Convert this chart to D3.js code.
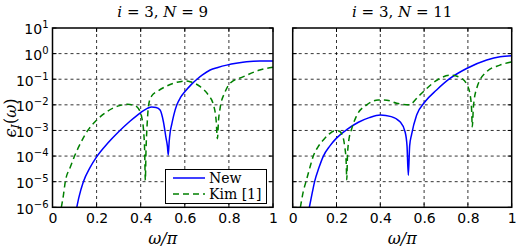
<!DOCTYPE html>
<html>
<head>
<meta charset="utf-8">
<script src="https://cdn.jsdelivr.net/npm/d3@7"></script>
<style>
  body { margin: 0; background: #fff; }
  .tick text { font-family: "DejaVu Sans", sans-serif; font-size: 14px; fill: #000; }
  .serif { font-family: "DejaVu Serif", "Liberation Serif", serif; }
</style>
</head>
<body>
<script>
// ---- data: omega/pi samples and log10 of epsilon_I ----
let titles = ["i = 3, N = 9", "i = 3, N = 11"]
let xTicks = [0, 0.2, 0.4, 0.6, 0.8, 1]
let yTickExps = [-6, -5, -4, -3, -2, -1, 0, 1]

// left panel (N = 9)
let newW9 = [0.11, 0.12, 0.14, 0.17, 0.2, 0.25, 0.3, 0.35, 0.4, 0.43, 0.45, 0.47, 0.488, 0.503, 0.515, 0.521, 0.525, 0.529, 0.534, 0.541, 0.55, 0.564, 0.58, 0.6, 0.63, 0.655, 0.68, 0.715, 0.75, 0.79, 0.84, 0.88, 0.94, 1]
let newE9 = [-6, -5.6, -5.0, -4.45, -4.03, -3.5, -3.05, -2.65, -2.3, -2.14, -2.08, -2.1, -2.2, -2.66, -3.3, -3.6, -3.96, -3.45, -3.05, -2.75, -2.4, -2.0, -1.72, -1.49, -1.2, -1.0, -0.83, -0.64, -0.54, -0.45, -0.37, -0.32, -0.29, -0.29]
let kimW9 = [0.04, 0.05, 0.058, 0.08, 0.1, 0.13, 0.16, 0.2, 0.25, 0.3, 0.34, 0.37, 0.39, 0.405, 0.413, 0.418, 0.421, 0.424, 0.429, 0.436, 0.45, 0.48, 0.51, 0.564, 0.6, 0.624, 0.67, 0.707, 0.73, 0.742, 0.748, 0.753, 0.76, 0.783, 0.805, 0.866, 0.94, 1]
let kimE9 = [-6, -5.5, -5.0, -4.45, -4.0, -3.45, -3.0, -2.6, -2.25, -2.04, -1.98, -2.02, -2.15, -2.5, -3.0, -3.8, -4.95, -3.8, -2.8, -2.0, -1.65, -1.45, -1.3, -1.12, -1.07, -1.1, -1.29, -1.62, -2.0, -2.6, -3.32, -2.6, -2.14, -1.49, -1.16, -0.9, -0.64, -0.53]

// right panel (N = 11)
let newW11 = [0.076, 0.09, 0.1, 0.12, 0.14, 0.17, 0.2, 0.25, 0.3, 0.35, 0.4, 0.45, 0.49, 0.513, 0.522, 0.528, 0.534, 0.543, 0.566, 0.604, 0.657, 0.718, 0.794, 0.886, 0.947, 1]
let newE11 = [-6, -5.4, -5.0, -4.45, -4.0, -3.6, -3.3, -2.95, -2.68, -2.5, -2.4, -2.46, -2.66, -3.05, -3.6, -4.75, -3.6, -3.15, -2.4, -1.88, -1.42, -0.97, -0.58, -0.25, -0.12, -0.08]
let kimW11 = [0.035, 0.048, 0.064, 0.08, 0.094, 0.115, 0.14, 0.165, 0.19, 0.21, 0.225, 0.237, 0.244, 0.247, 0.25, 0.256, 0.27, 0.29, 0.338, 0.39, 0.43, 0.475, 0.53, 0.58, 0.66, 0.72, 0.77, 0.795, 0.81, 0.817, 0.82, 0.825, 0.84, 0.885, 0.946, 1]
let kimE11 = [-6, -5.4, -4.9, -4.4, -4.0, -3.65, -3.37, -3.15, -3.02, -3.02, -3.15, -3.6, -4.2, -4.92, -4.0, -3.4, -2.92, -2.46, -2.0, -1.81, -1.82, -1.94, -2.0, -1.62, -1.03, -0.84, -0.96, -1.2, -1.6, -2.2, -2.86, -2.1, -1.36, -0.71, -0.45, -0.32]

let panels = [
  { left: 52.5, right: 273, title: titles[0], series: [[newW9, newE9], [kimW9, kimE9]], yLabels: true, legend: true },
  { left: 292.7, right: 511.7, title: titles[1], series: [[newW11, newE11], [kimW11, kimE11]], yLabels: false, legend: false }
]
let plotTop = 28, plotBottom = 207.3
let colors = ['#0000ff', '#008000']
let dashes = [null, '6,4']

let svg = d3.select("body").append("svg")
    .attr("width", 518)
    .attr("height", 248)

panels.forEach(function (p, pi) {
    let x = d3.scaleLinear().domain([0, 1]).range([p.left, p.right])
    let y = d3.scaleLog().domain([1e-6, 10]).range([plotBottom, plotTop])

    let g = svg.append("g")

    // grid
    g.selectAll(".gx").data(xTicks.slice(1, -1)).enter().append("line")
        .attr("x1", d => x(d)).attr("x2", d => x(d))
        .attr("y1", plotTop).attr("y2", plotBottom)
        .attr("stroke", "#000").attr("stroke-width", 0.8).attr("stroke-dasharray", "3,3")
    g.selectAll(".gy").data(yTickExps.slice(1, -1)).enter().append("line")
        .attr("x1", p.left).attr("x2", p.right)
        .attr("y1", d => y(Math.pow(10, d))).attr("y2", d => y(Math.pow(10, d)))
        .attr("stroke", "#000").attr("stroke-width", 0.8).attr("stroke-dasharray", "3,3")

    // clip
    let clipId = "clip" + pi
    svg.append("clipPath").attr("id", clipId).append("rect")
        .attr("x", p.left).attr("y", plotTop).attr("width", p.right - p.left).attr("height", plotBottom - plotTop)

    let line = d3.line()
        .x(d => x(d[0]))
        .y(d => y(Math.pow(10, d[1])))
        .curve(d3.curveMonotoneX)

    p.series.forEach(function (s, si) {
        let pts = s[0].map((w, i) => [w, s[1][i]])
        g.append("path")
            .datum(pts)
            .attr("clip-path", "url(#" + clipId + ")")
            .attr("fill", "none")
            .attr("stroke", colors[si])
            .attr("stroke-width", 1.5)
            .attr("stroke-dasharray", dashes[si])
            .attr("d", line)
    })

    // x axis
    let xAxis = g.append("g")
        .attr("transform", "translate(0," + plotBottom + ")")
        .call(d3.axisBottom(x).tickValues(xTicks).tickSize(0).tickPadding(6)
            .tickFormat(d => d === 0 || d === 1 ? String(d) : d3.format(".1f")(d)))
    xAxis.select(".domain").remove()

    // inward ticks
    g.selectAll(".tb").data(xTicks).enter().append("line")
        .attr("x1", d => x(d)).attr("x2", d => x(d)).attr("y1", plotBottom).attr("y2", plotBottom - 4)
        .attr("stroke", "#000")
    g.selectAll(".tt").data(xTicks).enter().append("line")
        .attr("x1", d => x(d)).attr("x2", d => x(d)).attr("y1", plotTop).attr("y2", plotTop + 4)
        .attr("stroke", "#000")
    g.selectAll(".tl").data(yTickExps).enter().append("line")
        .attr("x1", p.left).attr("x2", p.left + 4)
        .attr("y1", d => y(Math.pow(10, d))).attr("y2", d => y(Math.pow(10, d)))
        .attr("stroke", "#000")
    g.selectAll(".tr").data(yTickExps).enter().append("line")
        .attr("x1", p.right).attr("x2", p.right - 4)
        .attr("y1", d => y(Math.pow(10, d))).attr("y2", d => y(Math.pow(10, d)))
        .attr("stroke", "#000")

    if (p.yLabels) {
        let yAxis = g.append("g")
            .attr("transform", "translate(" + p.left + ",0)")
            .call(d3.axisLeft(y).tickValues(yTickExps.map(e => Math.pow(10, e))).tickSize(0).tickPadding(4).tickFormat(""))
        yAxis.select(".domain").remove()
        yAxis.selectAll(".tick text").each(function (d) {
            let t = d3.select(this)
            let e = Math.round(Math.log10(d))
            t.attr("dy", "0.42em")
            t.append("tspan").text("10")
            t.append("tspan").attr("dy", "-0.6em").attr("font-size", "10px")
                .text(String(e).replace("-", "\u2212"))
        })
    }

    // frame
    g.append("rect")
        .attr("x", p.left).attr("y", plotTop)
        .attr("width", p.right - p.left).attr("height", plotBottom - plotTop)
        .attr("fill", "none").attr("stroke", "#000").attr("stroke-width", 1.5)

    // title
    let tt = svg.append("text").attr("class", "serif")
        .attr("x", (p.left + p.right) / 2).attr("y", 17)
        .attr("text-anchor", "middle").attr("font-size", "15px")
    let parts = p.title.split(/(i|N)/)
    parts.forEach(function (s) {
        if (s === "") return
        tt.append("tspan").attr("font-style", (s === "i" || s === "N") ? "italic" : "normal").text(s)
    })

    // x label
    svg.append("text").attr("class", "serif")
        .attr("x", (p.left + p.right) / 2).attr("y", 244)
        .attr("text-anchor", "middle").attr("font-size", "16px")
        .attr("font-style", "italic")
        .text("\u03c9/\u03c0")

    if (p.legend) {
        let lg = svg.append("g")
        lg.append("rect").attr("x", 165.5).attr("y", 169.5).attr("width", 101).attr("height", 34)
            .attr("fill", "#fff").attr("stroke", "#000").attr("stroke-width", 1)
        let names = ["New", "Kim [1]"]
        names.forEach(function (n, i) {
            let yy = 178 + i * 16
            lg.append("line").attr("x1", 173).attr("x2", 205).attr("y1", yy).attr("y2", yy)
                .attr("stroke", colors[i]).attr("stroke-width", 1.5).attr("stroke-dasharray", dashes[i])
            lg.append("text").attr("class", "serif").attr("x", 209).attr("y", yy + 5)
                .attr("font-size", "14px").text(n)
        })
    }
})

// y label
let yl = svg.append("text").attr("class", "serif")
    .attr("transform", "translate(16,118) rotate(-90)")
    .attr("text-anchor", "middle").attr("font-size", "16px")
yl.append("tspan").attr("font-style", "italic").text("\u03f5")
yl.append("tspan").attr("font-style", "italic").attr("font-size", "11px").attr("dy", "3").text("I")
yl.append("tspan").attr("dy", "-3").text("(")
yl.append("tspan").attr("font-style", "italic").text("\u03c9")
yl.append("tspan").text(")")
</script>
</body>
</html>
